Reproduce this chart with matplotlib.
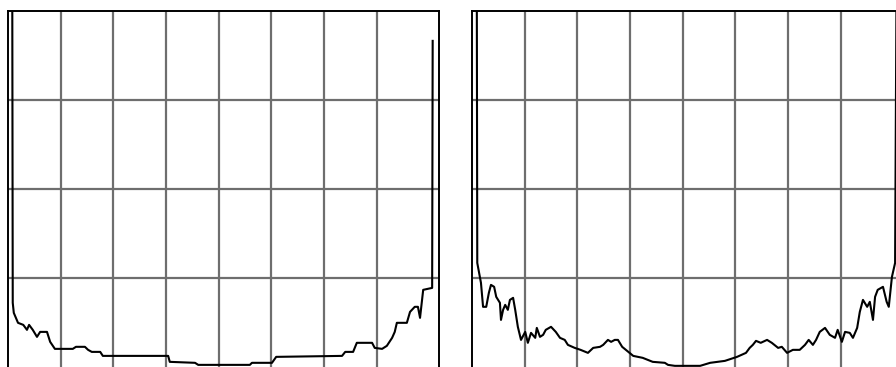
import matplotlib.pyplot as plt
import numpy as np

# left trace (x in grid units, y in grid units)
left_x = [0.08, 0.09, 0.11, 0.19, 0.29, 0.36, 0.40, 0.47, 0.55, 0.61, 0.74, 0.80,
          0.89, 1.23, 1.29, 1.46, 1.52, 1.59, 1.75, 1.80, 3.04, 3.07, 3.55, 3.61,
          4.59, 4.63, 5.01, 5.09, 6.34, 6.40, 6.55, 6.62, 6.91, 6.96, 7.10, 7.19,
          7.29, 7.34, 7.38, 7.57, 7.63, 7.72, 7.78, 7.82, 7.88, 8.05, 8.06]
left_y = [4.6, 0.717, 0.604, 0.492, 0.469, 0.413, 0.469, 0.413, 0.334, 0.390, 0.390, 0.278,
          0.199, 0.199, 0.222, 0.222, 0.188, 0.165, 0.165, 0.120, 0.120, 0.053, 0.042, 0.019,
          0.019, 0.042, 0.042, 0.109, 0.120, 0.165, 0.165, 0.267, 0.267, 0.210, 0.199, 0.233,
          0.323, 0.390, 0.492, 0.492, 0.615, 0.672, 0.672, 0.548, 0.863, 0.885, 3.664]

# right trace
right_x = [0.09, 0.10, 0.17, 0.21, 0.27, 0.32, 0.36, 0.42, 0.46, 0.53, 0.55, 0.59,
           0.63, 0.68, 0.72, 0.78, 0.82, 0.87, 0.93, 1.01, 1.06, 1.12, 1.20, 1.23,
           1.29, 1.35, 1.40, 1.50, 1.59, 1.67, 1.76, 1.82, 1.95, 2.06, 2.20, 2.30,
           2.43, 2.49, 2.58, 2.64, 2.71, 2.77, 2.85, 3.06, 3.24, 3.43, 3.66, 3.72,
           3.85, 4.33, 4.52, 4.80, 5.03, 5.20, 5.27, 5.33, 5.39, 5.48, 5.60, 5.69,
           5.81, 5.88, 5.98, 6.09, 6.22, 6.32, 6.39, 6.47, 6.53, 6.60, 6.70, 6.79,
           6.89, 6.94, 7.02, 7.08, 7.17, 7.23, 7.31, 7.36, 7.42, 7.50, 7.55, 7.61,
           7.65, 7.70, 7.80, 7.87, 7.91, 7.97, 8.03, 8.06]
right_y = [4.6, 1.166, 0.942, 0.672, 0.672, 0.829, 0.919, 0.897, 0.784, 0.717, 0.525, 0.638,
           0.694, 0.638, 0.750, 0.773, 0.638, 0.447, 0.300, 0.390, 0.267, 0.379, 0.323, 0.435,
           0.334, 0.357, 0.413, 0.447, 0.390, 0.323, 0.300, 0.244, 0.210, 0.188, 0.154, 0.210,
           0.222, 0.244, 0.300, 0.278, 0.300, 0.300, 0.222, 0.120, 0.098, 0.053, 0.042, 0.019,
           0.008, 0.008, 0.042, 0.064, 0.109, 0.154, 0.210, 0.244, 0.289, 0.267, 0.300, 0.267,
           0.210, 0.222, 0.154, 0.188, 0.188, 0.244, 0.300, 0.244, 0.300, 0.390, 0.435, 0.357,
           0.323, 0.413, 0.278, 0.390, 0.379, 0.323, 0.435, 0.615, 0.750, 0.672, 0.728, 0.525,
           0.784, 0.863, 0.897, 0.728, 0.672, 1.009, 1.166, 4.6]

fig = plt.figure(figsize=(8.96, 3.67), dpi=100)

W, H = 896, 367
panels = [(8, left_x, left_y), (472, right_x, right_y)]
for x0, xs, ys in panels:
    # axes spans 431 px wide, top at 11 px, bottom just below the image
    ax = fig.add_axes([x0 / W, (H - 371) / H, 431 / W, 360 / H])
    ax.plot(xs, ys, color='black', lw=1.5)
    ax.set_xlim(0, 8.18)
    ax.set_ylim(-0.05, 4)
    ax.set_xticks(np.arange(1, 8))
    ax.set_yticks([1, 2, 3])
    ax.grid(True, color='#6e6e6e', lw=1.6)
    ax.tick_params(length=0, labelbottom=False, labelleft=False)
    for s in ax.spines.values():
        s.set_color('black')
        s.set_linewidth(1.4)

fig.savefig('out.png', dpi=100)
